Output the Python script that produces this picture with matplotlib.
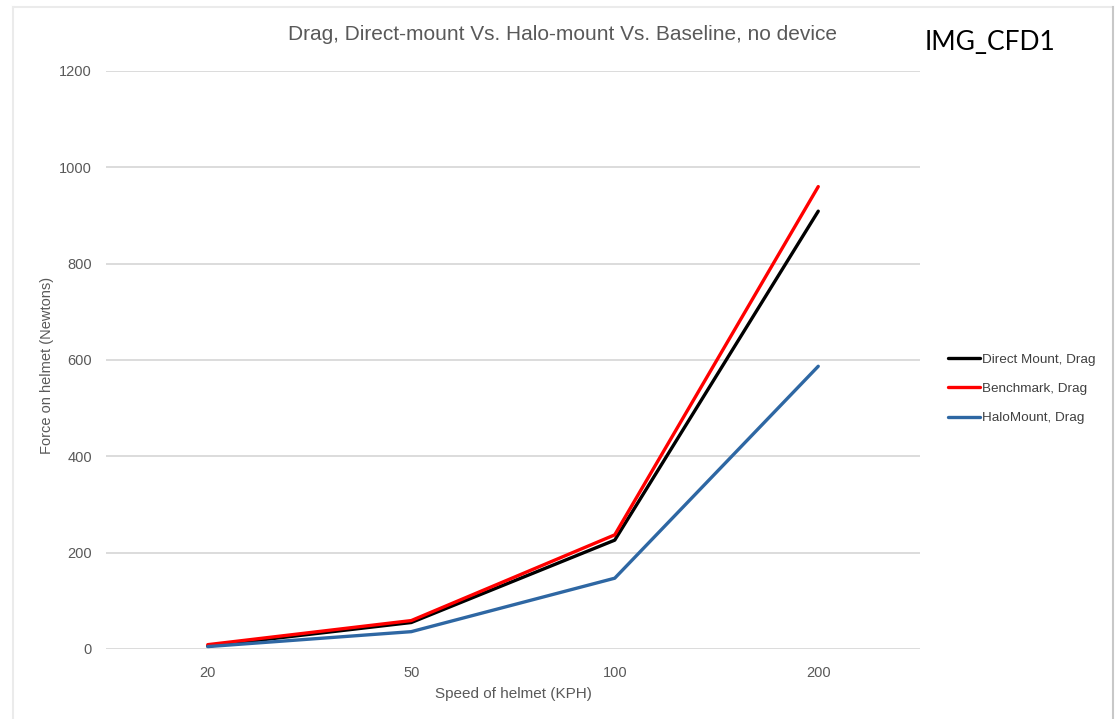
import matplotlib
matplotlib.use('Agg')
import matplotlib.pyplot as plt
from matplotlib import font_manager
from matplotlib.lines import Line2D

nomes = {f.name for f in font_manager.fontManager.ttflist}
narrow = 'Liberation Sans Narrow' if 'Liberation Sans Narrow' in nomes else 'Liberation Sans'

velocidades = ['20', '50', '100', '200']
direct_mount = [6, 55, 226, 909]
benchmark = [9, 59, 237, 960]
halo_mount = [5, 36, 147, 587]

cinza_texto = '#595959'

fig = plt.figure(figsize=(11.2, 7.19), dpi=100)
ax = fig.add_axes([106 / 1120, 1 - 649 / 719, (920 - 106) / 1120, (649 - 71) / 719])

x = range(len(velocidades))
ax.plot(x, direct_mount, color='black', linewidth=2.4, label='Direct Mount, Drag', solid_capstyle='round')
ax.plot(x, benchmark, color='#ff0000', linewidth=2.4, label='Benchmark, Drag', solid_capstyle='round')
ax.plot(x, halo_mount, color='#2e67a3', linewidth=2.4, label='HaloMount, Drag', solid_capstyle='round')

ax.set_xlim(-0.5, len(velocidades) - 0.5)
ax.set_ylim(0, 1200)
ax.set_yticks(range(0, 1201, 200))
ax.set_xticks(list(x))
ax.set_xticklabels(velocidades)
ax.grid(axis='y', color='#d9d9d9', linewidth=1.3)
ax.set_axisbelow(True)
for s in ax.spines.values():
    s.set_visible(False)
ax.tick_params(length=0, colors=cinza_texto, labelsize=10.5)
ax.tick_params(axis='y', pad=10)
ax.tick_params(axis='x', pad=12)
for lab in ax.get_xticklabels() + ax.get_yticklabels():
    lab.set_fontfamily(narrow)

ax.set_xlabel('Speed of helmet (KPH)', fontsize=11, color=cinza_texto, family=narrow, labelpad=5)
ax.set_ylabel('Force on helmet (Newtons)', fontsize=10.5, color=cinza_texto, family=narrow)
ax.yaxis.set_label_coords((54 - 106) / 814, 0.49)

fig.text(563 / 1120, 1 - 35 / 719, 'Drag, Direct-mount Vs. Halo-mount Vs. Baseline, no device',
         ha='center', va='center', fontsize=15, color=cinza_texto, family=narrow)
fig.text(925 / 1120, 1 - 42 / 719, 'IMG_CFD1', ha='left', va='center', fontsize=19,
         color='black', family='Lato')

leg = ax.legend(loc='center left', bbox_to_anchor=(936 / 1120, 1 - 389 / 719),
                bbox_transform=fig.transFigure, frameon=False, fontsize=9.7,
                handlelength=2.4, handletextpad=0.1, labelspacing=1.25)
for t in leg.get_texts():
    t.set_color('#404040')
    t.set_fontfamily('Liberation Sans')

# contorno da imagem
fig.add_artist(Line2D([13 / 1120, 1113 / 1120], [1 - 7 / 719, 1 - 7 / 719],
                      transform=fig.transFigure, color='#ebebeb', linewidth=1.5))
fig.add_artist(Line2D([13 / 1120, 13 / 1120], [1 - 7 / 719, 0],
                      transform=fig.transFigure, color='#ebebeb', linewidth=1.5))
fig.add_artist(Line2D([1113 / 1120, 1113 / 1120], [1 - 7 / 719, 0],
                      transform=fig.transFigure, color='#c8c8c8', linewidth=1.5))

fig.savefig('out.png', dpi=100)
